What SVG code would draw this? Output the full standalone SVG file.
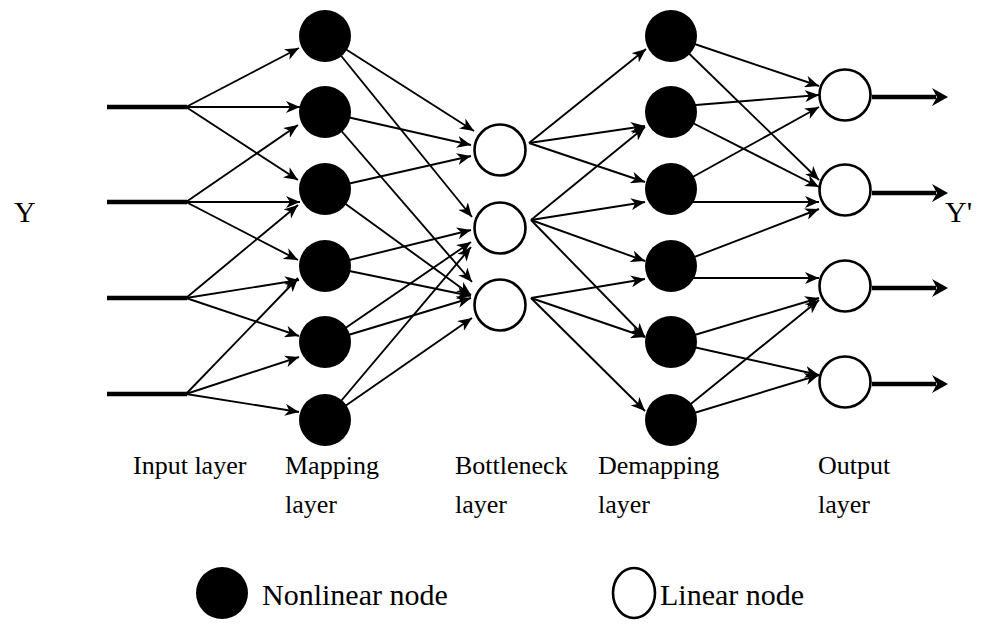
<svg xmlns="http://www.w3.org/2000/svg" width="1001" height="628" viewBox="0 0 1001 628">
  <defs>
    <marker id="arrow" viewBox="0 0 14 12" refX="14" refY="6" markerWidth="14" markerHeight="12" markerUnits="userSpaceOnUse" orient="auto">
      <path d="M0,0 L14,6 L0,12 L4,6 Z" fill="#000"/>
    </marker>
  </defs>
  <style>
    .edge { stroke: #000; stroke-width: 1.9; fill: none; marker-end: url(#arrow); }
    .feed { stroke: #000; stroke-width: 4.5; fill: none; }
    .head { fill: #000; stroke: none; }
    .nl { fill: #000; stroke: none; }
    .lin { fill: #fff; stroke: #000; stroke-width: 2.6; }
    text { font-family: "Liberation Serif", "Times New Roman", serif; fill: #000; }
    .lbl { font-size: 26px; }
    .leg { font-size: 30px; }
    .io { font-size: 30px; }
  </style>

  <rect width="1001" height="628" fill="#fff"/>

  <g id="connectors">
    <!-- input feeds -->
    <line class="feed" x1="107" y1="107" x2="187" y2="107"/>
    <line class="feed" x1="107" y1="202" x2="187" y2="202"/>
    <line class="feed" x1="107" y1="298" x2="187" y2="298"/>
    <line class="feed" x1="107" y1="394" x2="187" y2="394"/>

    <!-- input -> mapping -->
    <line class="edge" x1="186" y1="107" x2="299" y2="48"/>
    <line class="edge" x1="186" y1="107" x2="300" y2="107"/>
    <line class="edge" x1="186" y1="107" x2="298" y2="180"/>
    <line class="edge" x1="186" y1="202" x2="298" y2="125"/>
    <line class="edge" x1="186" y1="202" x2="300" y2="202"/>
    <line class="edge" x1="186" y1="202" x2="298" y2="260"/>
    <line class="edge" x1="186" y1="298" x2="298" y2="205"/>
    <line class="edge" x1="186" y1="298" x2="299" y2="280"/>
    <line class="edge" x1="186" y1="298" x2="299" y2="336"/>
    <line class="edge" x1="186" y1="394" x2="298" y2="278"/>
    <line class="edge" x1="186" y1="394" x2="299" y2="357"/>
    <line class="edge" x1="186" y1="394" x2="299" y2="412"/>

    <!-- mapping -> bottleneck -->
    <line class="edge" x1="325" y1="36" x2="474" y2="131"/>
    <line class="edge" x1="325" y1="36" x2="472" y2="217"/>
    <line class="edge" x1="325" y1="112" x2="471" y2="145"/>
    <line class="edge" x1="325" y1="112" x2="472" y2="282"/>
    <line class="edge" x1="325" y1="189" x2="471" y2="156"/>
    <line class="edge" x1="325" y1="189" x2="471" y2="295"/>
    <line class="edge" x1="325" y1="266" x2="471" y2="230"/>
    <line class="edge" x1="325" y1="266" x2="471" y2="296"/>
    <line class="edge" x1="325" y1="342" x2="471" y2="242"/>
    <line class="edge" x1="325" y1="342" x2="471" y2="298"/>
    <line class="edge" x1="325" y1="420" x2="471" y2="247"/>
    <line class="edge" x1="325" y1="420" x2="472" y2="318"/>

    <!-- bottleneck -> demapping -->
    <line class="edge" x1="529" y1="143" x2="646" y2="49"/>
    <line class="edge" x1="529" y1="143" x2="645" y2="126"/>
    <line class="edge" x1="529" y1="143" x2="645" y2="182"/>
    <line class="edge" x1="531" y1="220" x2="645" y2="127"/>
    <line class="edge" x1="531" y1="220" x2="645" y2="202"/>
    <line class="edge" x1="531" y1="220" x2="645" y2="261"/>
    <line class="edge" x1="531" y1="220" x2="645" y2="337"/>
    <line class="edge" x1="531" y1="298" x2="645" y2="279"/>
    <line class="edge" x1="531" y1="298" x2="645" y2="337"/>
    <line class="edge" x1="531" y1="298" x2="645" y2="411"/>

    <!-- demapping -> output -->
    <line class="edge" x1="671" y1="36" x2="819" y2="86"/>
    <line class="edge" x1="671" y1="36" x2="819" y2="180"/>
    <line class="edge" x1="671" y1="107" x2="819" y2="95"/>
    <line class="edge" x1="671" y1="112" x2="819" y2="187"/>
    <line class="edge" x1="671" y1="189" x2="819" y2="107"/>
    <line class="edge" x1="671" y1="202" x2="819" y2="202"/>
    <line class="edge" x1="671" y1="266" x2="819" y2="209"/>
    <line class="edge" x1="671" y1="278" x2="819" y2="278"/>
    <line class="edge" x1="671" y1="342" x2="819" y2="298"/>
    <line class="edge" x1="671" y1="342" x2="819" y2="375"/>
    <line class="edge" x1="671" y1="420" x2="819" y2="300"/>
    <line class="edge" x1="671" y1="420" x2="819" y2="375"/>

    <!-- output feeds -->
    <line class="feed" x1="872" y1="97" x2="936" y2="97"/>
    <polygon class="head" points="932,88 948,97 932,106 937,97"/>
    <line class="feed" x1="872" y1="193" x2="936" y2="193"/>
    <polygon class="head" points="932,184 948,193 932,202 937,193"/>
    <line class="feed" x1="872" y1="288" x2="936" y2="288"/>
    <polygon class="head" points="932,279 948,288 932,297 937,288"/>
    <line class="feed" x1="872" y1="384" x2="936" y2="384"/>
    <polygon class="head" points="932,375 948,384 932,393 937,384"/>
  </g>

  <!-- mapping layer (nonlinear) -->
  <g id="map1"><circle class="nl" cx="325" cy="36" r="26"/></g>
  <g id="map2"><circle class="nl" cx="325" cy="112" r="26"/></g>
  <g id="map3"><circle class="nl" cx="325" cy="189" r="26"/></g>
  <g id="map4"><circle class="nl" cx="325" cy="266" r="26"/></g>
  <g id="map5"><circle class="nl" cx="325" cy="342" r="26"/></g>
  <g id="map6"><circle class="nl" cx="325" cy="420" r="26"/></g>

  <!-- bottleneck layer (linear) -->
  <g id="bott1"><circle class="lin" cx="500" cy="150" r="25.5"/></g>
  <g id="bott2"><circle class="lin" cx="500" cy="228" r="25.5"/></g>
  <g id="bott3"><circle class="lin" cx="500" cy="305" r="25.5"/></g>

  <!-- demapping layer (nonlinear) -->
  <g id="demap1"><circle class="nl" cx="671" cy="36" r="26"/></g>
  <g id="demap2"><circle class="nl" cx="671" cy="112" r="26"/></g>
  <g id="demap3"><circle class="nl" cx="671" cy="189" r="26"/></g>
  <g id="demap4"><circle class="nl" cx="671" cy="266" r="26"/></g>
  <g id="demap5"><circle class="nl" cx="671" cy="342" r="26"/></g>
  <g id="demap6"><circle class="nl" cx="671" cy="420" r="26"/></g>

  <!-- output layer (linear) -->
  <g id="out1"><circle class="lin" cx="845" cy="95" r="25.5"/></g>
  <g id="out2"><circle class="lin" cx="845" cy="190" r="25.5"/></g>
  <g id="out3"><circle class="lin" cx="845" cy="286" r="25.5"/></g>
  <g id="out4"><circle class="lin" cx="845" cy="382" r="25.5"/></g>

  <g id="io-labels">
    <text class="io" x="14" y="222">Y</text>
    <text class="io" x="945" y="222">Y'</text>
  </g>

  <g id="layer-labels">
    <text class="lbl" x="133" y="474">Input layer</text>
    <text class="lbl" x="285" y="474">Mapping</text>
    <text class="lbl" x="285" y="513">layer</text>
    <text class="lbl" x="455" y="474">Bottleneck</text>
    <text class="lbl" x="455" y="513">layer</text>
    <text class="lbl" x="598" y="474">Demapping</text>
    <text class="lbl" x="598" y="513">layer</text>
    <text class="lbl" x="818" y="474">Output</text>
    <text class="lbl" x="818" y="513">layer</text>
  </g>

  <g id="legend">
    <circle class="nl" cx="222" cy="593" r="26"/>
    <text class="leg" x="262" y="605">Nonlinear node</text>
    <ellipse class="lin" cx="634" cy="593" rx="21" ry="25"/>
    <text class="leg" x="660" y="605">Linear node</text>
  </g>
</svg>
